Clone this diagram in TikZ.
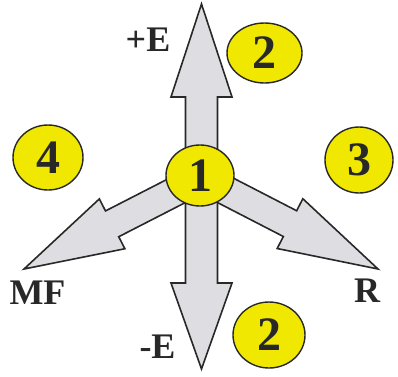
\documentclass[tikz,border=0pt]{standalone}
\usepackage{fontspec}
\setmainfont{Liberation Serif}
\usepackage{xcolor}
\usetikzlibrary{shapes.geometric, calc}

\definecolor{digityellow}{RGB}{240,232,0}
\definecolor{arrowgray}{RGB}{221,221,226}
\definecolor{inkgray}{RGB}{40,40,40}

% fat arrow: from, to, shaft half width, head half width, head length
\newcommand{\fatarrow}[5]{%
  \path let \p1=($(#2)-(#1)$) in \pgfextra{%
    \pgfmathparse{atan2(\y1,\x1)}\xdef\farang{\pgfmathresult}%
    \pgfmathparse{veclen(\x1,\y1)}\xdef\farlen{\pgfmathresult}};
  \begin{scope}[shift={(#1)}, rotate=\farang]
    \draw[fat] (0,-#3) -- (\farlen-#5,-#3) -- (\farlen-#5,-#4) -- (\farlen,0)
      -- (\farlen-#5,#4) -- (\farlen-#5,#3) -- (0,#3) -- cycle;
  \end{scope}}

\begin{document}
\begin{tikzpicture}[x=1pt, y=1pt,
    fat/.style={draw=inkgray, fill=arrowgray, line width=1.6pt, line join=miter},
    num/.style={ellipse, draw=inkgray, fill=digityellow, line width=1.4pt, inner sep=0pt,
      text=inkgray, font=\fontsize{48}{48}\selectfont\bfseries},
    lbl/.style={text=inkgray, inner sep=0pt, font=\fontsize{36}{36}\selectfont\bfseries}]
\useasboundingbox (0,0) rectangle (398,376);
% centre and arrow tips
\coordinate (o) at (201.5,198);
\coordinate (tUp) at (201.5,372);
\coordinate (tDown) at (201.5,7);
\coordinate (tMF) at (24,107);
\coordinate (tR) at (378,107);
% arrows
\fatarrow{o}{tUp}{16}{30.5}{93}
\fatarrow{o}{tDown}{16}{30.5}{86}
\fatarrow{o}{tMF}{14.5}{28}{99}
\fatarrow{o}{tR}{14.5}{28}{99}
% regions
\node[num, minimum width=68, minimum height=61] (n1) at (200,200.5) {1};
\node[num, minimum width=75, minimum height=60] (n2top) at (264.5,323) {2};
\node[num, minimum width=68, minimum height=66] (n3) at (359,216) {3};
\node[num, minimum width=72, minimum height=66] (n2bot) at (269,41) {2};
\node[num, minimum width=70, minimum height=65] (n4) at (48,218.5) {4};
% axis labels
\node[lbl] (lpE) at (148,336) {+E};
\node[lbl] (lmE) at (157.5,29.5) {-E};
\node[lbl] (lMF) at (37.5,83) {MF};
\node[lbl] (lR) at (367,85) {R};
\end{tikzpicture}
\end{document}
